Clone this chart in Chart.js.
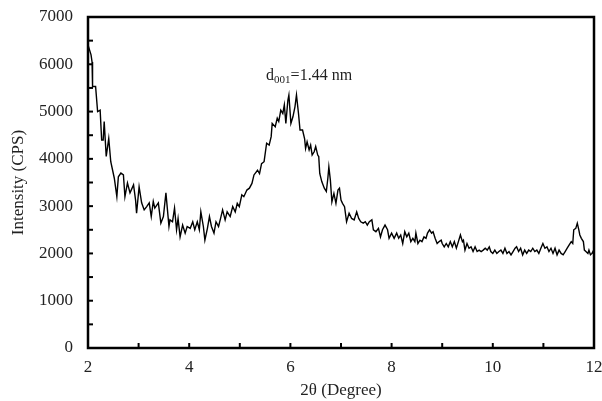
<!DOCTYPE html>
<html lang="en">

<head>
    <meta charset="UTF-8">
    <title>XRD pattern</title>
    <script src="https://cdn.jsdelivr.net/npm/chart.js@4.4.1/dist/chart.umd.min.js"></script>
    <style>
        body { margin: 0; background: #fff; }
        .chart-box { width: 602px; height: 401px; }
    </style>
</head>

<body>
    <div class="chart-box"><canvas id="xrdChart"></canvas></div>
    <script>
    // 2-theta positions (degree) and intensities (CPS)
    var twoTheta = [
        2.00, 2.06, 2.08, 2.09, 2.15, 2.19, 2.24, 2.27, 2.30, 2.32, 2.36, 2.41, 2.45, 2.52, 2.57, 2.60, 2.65, 2.70, 2.73, 2.78,
        2.83, 2.90, 2.94, 2.96, 3.01, 3.06, 3.11, 3.16, 3.21, 3.25, 3.29, 3.32, 3.39, 3.44, 3.49, 3.54, 3.60, 3.62, 3.67, 3.71,
        3.75, 3.78, 3.82, 3.87, 3.92, 3.96, 4.02, 4.07, 4.11, 4.16, 4.20, 4.23, 4.28, 4.31, 4.36, 4.40, 4.44, 4.49, 4.53, 4.58,
        4.62, 4.66, 4.71, 4.75, 4.81, 4.86, 4.91, 4.95, 4.99, 5.04, 5.08, 5.14, 5.19, 5.24, 5.28, 5.35, 5.39, 5.43, 5.48, 5.53,
        5.58, 5.62, 5.64, 5.70, 5.74, 5.77, 5.81, 5.85, 5.88, 5.91, 5.95, 5.97, 6.01, 6.05, 6.09, 6.12, 6.16, 6.19, 6.24, 6.28,
        6.30, 6.33, 6.37, 6.40, 6.43, 6.47, 6.50, 6.54, 6.56, 6.58, 6.62, 6.67, 6.71, 6.74, 6.76, 6.79, 6.82, 6.86, 6.90, 6.94,
        6.97, 7.00, 7.03, 7.07, 7.11, 7.16, 7.21, 7.26, 7.31, 7.35, 7.39, 7.44, 7.48, 7.52, 7.56, 7.61, 7.64, 7.69, 7.74, 7.78,
        7.82, 7.87, 7.92, 7.95, 8.00, 8.05, 8.10, 8.14, 8.18, 8.22, 8.26, 8.30, 8.34, 8.38, 8.42, 8.46, 8.48, 8.52, 8.56, 8.60,
        8.64, 8.68, 8.71, 8.75, 8.79, 8.82, 8.86, 8.90, 8.94, 8.98, 9.00, 9.04, 9.08, 9.12, 9.16, 9.20, 9.24, 9.28, 9.32, 9.36,
        9.40, 9.42, 9.45, 9.49, 9.53, 9.57, 9.61, 9.65, 9.69, 9.73, 9.77, 9.81, 9.85, 9.89, 9.93, 9.96, 10.00, 10.04, 10.08, 10.12,
        10.16, 10.20, 10.24, 10.28, 10.32, 10.36, 10.40, 10.44, 10.47, 10.51, 10.55, 10.59, 10.63, 10.67, 10.71, 10.75, 10.79, 10.83, 10.87, 10.91,
        10.95, 10.99, 11.03, 11.07, 11.11, 11.15, 11.19, 11.23, 11.27, 11.31, 11.35, 11.39, 11.43, 11.47, 11.51, 11.55, 11.58, 11.60, 11.64, 11.67,
        11.70, 11.72, 11.75, 11.79, 11.81, 11.84, 11.88, 11.90, 11.93, 11.96, 11.98, 12.00
    ];
    var intensity = [
        6410, 6200, 6050, 5530, 5530, 5000, 5030, 4400, 4400, 4790, 4050, 4430, 3940, 3590, 3200, 3620, 3700, 3660, 3200, 3490,
        3280, 3450, 3130, 2850, 3410, 3070, 2920, 2990, 3070, 2780, 3100, 2960, 3070, 2640, 2780, 3280, 2570, 2710, 2670, 2960,
        2500, 2740, 2350, 2600, 2430, 2570, 2530, 2670, 2500, 2670, 2500, 2880, 2570, 2280, 2530, 2780, 2570, 2430, 2670, 2570,
        2740, 2920, 2710, 2880, 2780, 2990, 2880, 3060, 2990, 3240, 3200, 3340, 3380, 3480, 3660, 3760, 3690, 3900, 3940, 4330,
        4290, 4470, 4750, 4680, 4860, 4790, 5030, 4960, 5140, 4750, 5240, 5350, 4750, 4890, 5100, 5350, 4960, 4610, 4610, 4430,
        4220, 4360, 4190, 4290, 4080, 4150, 4260, 4080, 4050, 3690, 3520, 3380, 3310, 3590, 3830, 3550, 3090, 3270, 3060, 3340,
        3380, 3130, 3060, 2990, 2670, 2850, 2740, 2710, 2880, 2740, 2670, 2640, 2670, 2600, 2670, 2710, 2500, 2460, 2530, 2350,
        2500, 2600, 2500, 2320, 2430, 2320, 2430, 2320, 2390, 2210, 2460, 2350, 2430, 2250, 2320, 2250, 2430, 2210, 2280, 2250,
        2350, 2320, 2430, 2500, 2430, 2460, 2320, 2210, 2250, 2280, 2210, 2140, 2210, 2140, 2250, 2140, 2250, 2110, 2250, 2390,
        2250, 2280, 2070, 2210, 2110, 2140, 2040, 2140, 2040, 2070, 2040, 2070, 2110, 2070, 2140, 2040, 2000, 2070, 2000, 2040,
        2070, 2000, 2110, 2000, 2040, 1970, 2040, 2110, 2140, 2040, 2110, 1970, 2070, 2000, 2070, 2040, 2110, 2040, 2070, 2000,
        2110, 2210, 2110, 2140, 2040, 2110, 2000, 2110, 1970, 2070, 2000, 1970, 2040, 2110, 2180, 2250, 2210, 2500, 2530, 2640,
        2500, 2390, 2320, 2250, 2070, 2040, 2000, 2070, 1970, 2000, 2040, 1950
    ];

    // axis ticks: labelled ones and the small inner marks between them
    var xTickValues = [2, 4, 6, 8, 10, 12];
    var xMinorTicks = [3, 5, 7, 9, 11];
    var yTickValues = [0, 1000, 2000, 3000, 4000, 5000, 6000, 7000];
    var yMinorTicks = [500, 1500, 2500, 3500, 4500, 5500, 6500];

    var peakLabel = { x: 5.52, y: 5660, name: 'd', sub: '001', rest: '=1.44 nm' };

    var serif = '"Liberation Serif", "Times New Roman", serif';

    // frame, inward tick marks and the peak note
    var framePlugin = {
        id: 'frame',
        afterDraw: function(chart) {
            var ctx = chart.ctx;
            var area = chart.chartArea;
            var xs = chart.scales.x;
            var ys = chart.scales.y;
            ctx.save();
            ctx.strokeStyle = '#000';
            ctx.lineWidth = 2;
            xTickValues.concat(xMinorTicks).forEach(function(v) {
                var px = xs.getPixelForValue(v);
                ctx.beginPath();
                ctx.moveTo(px, area.bottom);
                ctx.lineTo(px, area.bottom - 5);
                ctx.stroke();
            });
            yTickValues.concat(yMinorTicks).forEach(function(v) {
                var py = ys.getPixelForValue(v);
                ctx.beginPath();
                ctx.moveTo(area.left, py);
                ctx.lineTo(area.left + 5, py);
                ctx.stroke();
            });
            ctx.lineWidth = 2.5;
            ctx.strokeRect(area.left, area.top, area.right - area.left, area.bottom - area.top);

            var tx = xs.getPixelForValue(peakLabel.x);
            var ty = ys.getPixelForValue(peakLabel.y);
            ctx.fillStyle = '#222';
            ctx.textBaseline = 'alphabetic';
            ctx.font = '16px ' + serif;
            ctx.fillText(peakLabel.name, tx, ty);
            tx += ctx.measureText(peakLabel.name).width;
            ctx.font = '11px ' + serif;
            ctx.fillText(peakLabel.sub, tx, ty + 3);
            tx += ctx.measureText(peakLabel.sub).width;
            ctx.font = '16px ' + serif;
            ctx.fillText(peakLabel.rest, tx, ty);
            ctx.restore();
        }
    };

    var ctx = document.getElementById('xrdChart').getContext('2d');
    var chart = new Chart(ctx, {
        type: 'scatter',
        data: {
            datasets: [{
                data: twoTheta.map(function(t, i) { return { x: t, y: intensity[i] }; }),
                showLine: true,
                borderColor: '#000',
                borderWidth: 1.4,
                pointRadius: 0,
                tension: 0
            }]
        },
        options: {
            responsive: true,
            maintainAspectRatio: false,
            animation: false,
            layout: { padding: { left: 0, right: 8, top: 17, bottom: 0 } },
            plugins: {
                legend: { display: false },
                tooltip: { enabled: false }
            },
            scales: {
                x: {
                    type: 'linear',
                    min: 2,
                    max: 12,
                    afterBuildTicks: function(scale) {
                        scale.ticks = xTickValues.map(function(v) { return { value: v }; });
                    },
                    afterFit: function(scale) {
                        scale.height = 53;
                        scale.paddingLeft = 0;
                        scale.paddingRight = 0;
                    },
                    grid: { display: false, drawTicks: false },
                    border: { display: false },
                    ticks: {
                        color: '#222',
                        padding: 9,
                        font: { family: serif, size: 17 },
                        callback: function(v) { return String(v); }
                    },
                    title: {
                        display: true,
                        text: '2\u03b8 (Degree)',
                        color: '#222',
                        padding: { top: 4, bottom: 0 },
                        font: { family: serif, size: 17 }
                    }
                },
                y: {
                    min: 0,
                    max: 7000,
                    afterBuildTicks: function(scale) {
                        scale.ticks = yTickValues.map(function(v) { return { value: v }; });
                    },
                    afterFit: function(scale) {
                        scale.width = 88;
                        scale.paddingTop = 0;
                        scale.paddingBottom = 0;
                    },
                    grid: { display: false, drawTicks: false },
                    border: { display: false },
                    ticks: {
                        color: '#222',
                        padding: 15,
                        font: { family: serif, size: 17 },
                        callback: function(v) { return String(v); }
                    },
                    title: {
                        display: true,
                        text: 'Intensity (CPS)',
                        color: '#222',
                        padding: { top: 8, bottom: 4 },
                        font: { family: serif, size: 17 }
                    }
                }
            }
        },
        plugins: [framePlugin]
    });
    </script>
</body>

</html>
